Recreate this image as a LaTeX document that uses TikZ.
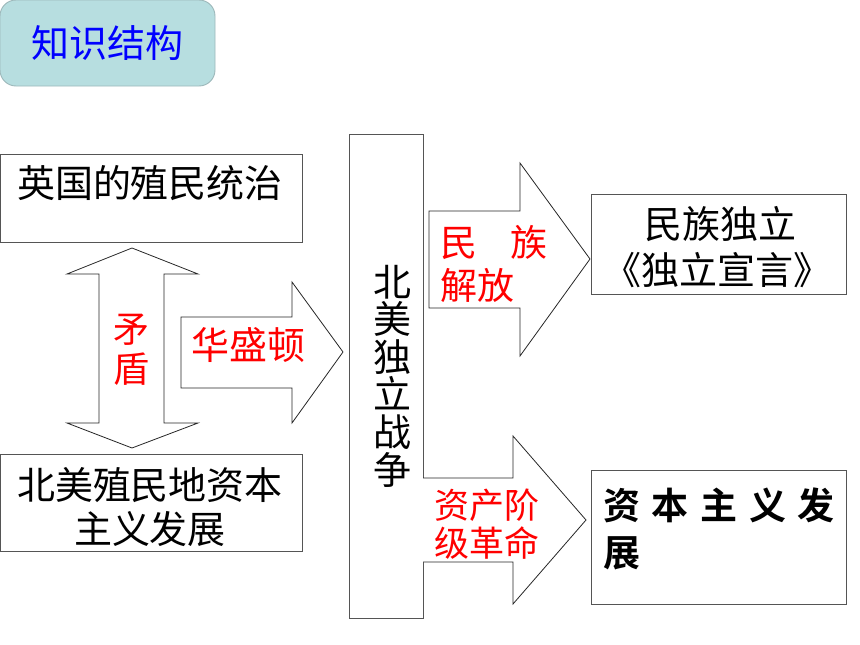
\documentclass[tikz,border=0pt]{standalone}
\usepackage{fontspec}
\newfontfamily\cjk{Noto Sans CJK SC}
\newfontfamily\cjkb{Noto Sans CJK SC Bold}
\definecolor{titlefill}{HTML}{B7DEE0}
\definecolor{titleedge}{HTML}{9DB8BA}
\definecolor{boxedge}{HTML}{555555}
\begin{document}
\begin{tikzpicture}[x=1pt,y=-1pt,
  box/.style={draw=boxedge,line width=0.9pt},
  blockarrow/.style={draw=black!85,line width=0.8pt,fill=white},
  blk/.style={font=\cjk\fontsize{38}{44}\selectfont,text=black,inner sep=0pt},
  red/.style={font=\cjk\fontsize{36}{40}\selectfont,text=red,inner sep=0pt},
]
\useasboundingbox (0,0) rectangle (860,645);
% title
\draw[fill=titlefill,draw=titleedge,line width=0.9pt,rounded corners=16pt] (0,0) rectangle (215,86);
\node[font=\cjk\fontsize{38}{40}\selectfont,text=blue,inner sep=0pt] (title) at (107,43) {知识结构};
% left boxes
\draw[box] (0,154) rectangle (302,242);
\node[blk] (b1) at (150,183) {英国的殖民统治};
\draw[box] (0,454) rectangle (302,551);
\node[blk,align=center,font=\cjk\fontsize{38}{44}\selectfont] (b2) at (150,507) {北美殖民地资本\\主义发展};
% double arrow
\draw[blockarrow] (132,248) -- (198,274) -- (164,274) -- (164,423) -- (198,423) -- (132,448)
  -- (67,423) -- (99,423) -- (99,274) -- (67,274) -- cycle;
\node[red,align=center,font=\cjk\fontsize{36}{40}\selectfont] (md) at (131,350) {矛\\盾};
% washington arrow
\draw[blockarrow] (181,317) -- (292,317) -- (292,282) -- (343,352) -- (292,423) -- (292,388) -- (181,388) -- cycle;
\node[red,font=\cjk\fontsize{38}{40}\selectfont] (ws) at (248,345) {华盛顿};
% vertical war box
\draw[box] (349,134) rectangle (423,618);
\node[blk,align=center,font=\cjk\fontsize{38}{37.6}\selectfont] (war) at (392,376) {北\\美\\独\\立\\战\\争};
% upper right arrow
\draw[blockarrow] (429,211) -- (520,211) -- (520,163) -- (590,259) -- (520,356) -- (520,308) -- (429,308) -- cycle;
\node[red,anchor=west,font=\cjk\fontsize{37}{43}\selectfont] (mz) at (440,242) {民\hspace{33pt}族};
\node[red,anchor=west,font=\cjk\fontsize{37}{43}\selectfont] (jf) at (440,285) {解放};
% lower right arrow
\draw[blockarrow] (423,478) -- (513,478) -- (513,436) -- (586,520) -- (513,604) -- (513,562) -- (423,562);
\node[red,anchor=west,font=\cjk\fontsize{35}{38}\selectfont] (zc) at (434,505) {资产阶};
\node[red,anchor=west,font=\cjk\fontsize{35}{38}\selectfont] (jg) at (434,543) {级革命};
% right boxes
\draw[box] (591,194) rectangle (846,294);
\node[blk] (mzdl) at (720,224) {民族独立};
\node[blk] (dlxy) at (717,270) {《独立宣言》};
\draw[box] (591,470) rectangle (846,604);
\node[blk,anchor=west,font=\cjkb\fontsize{37}{40}\selectfont] (zb) at (603,505) {资\hspace{11.7pt}本\hspace{11.7pt}主\hspace{11.7pt}义\hspace{11.7pt}发};
\node[blk,anchor=west,font=\cjkb\fontsize{37}{40}\selectfont] (zz) at (603,553) {展};
\end{tikzpicture}
\end{document}
